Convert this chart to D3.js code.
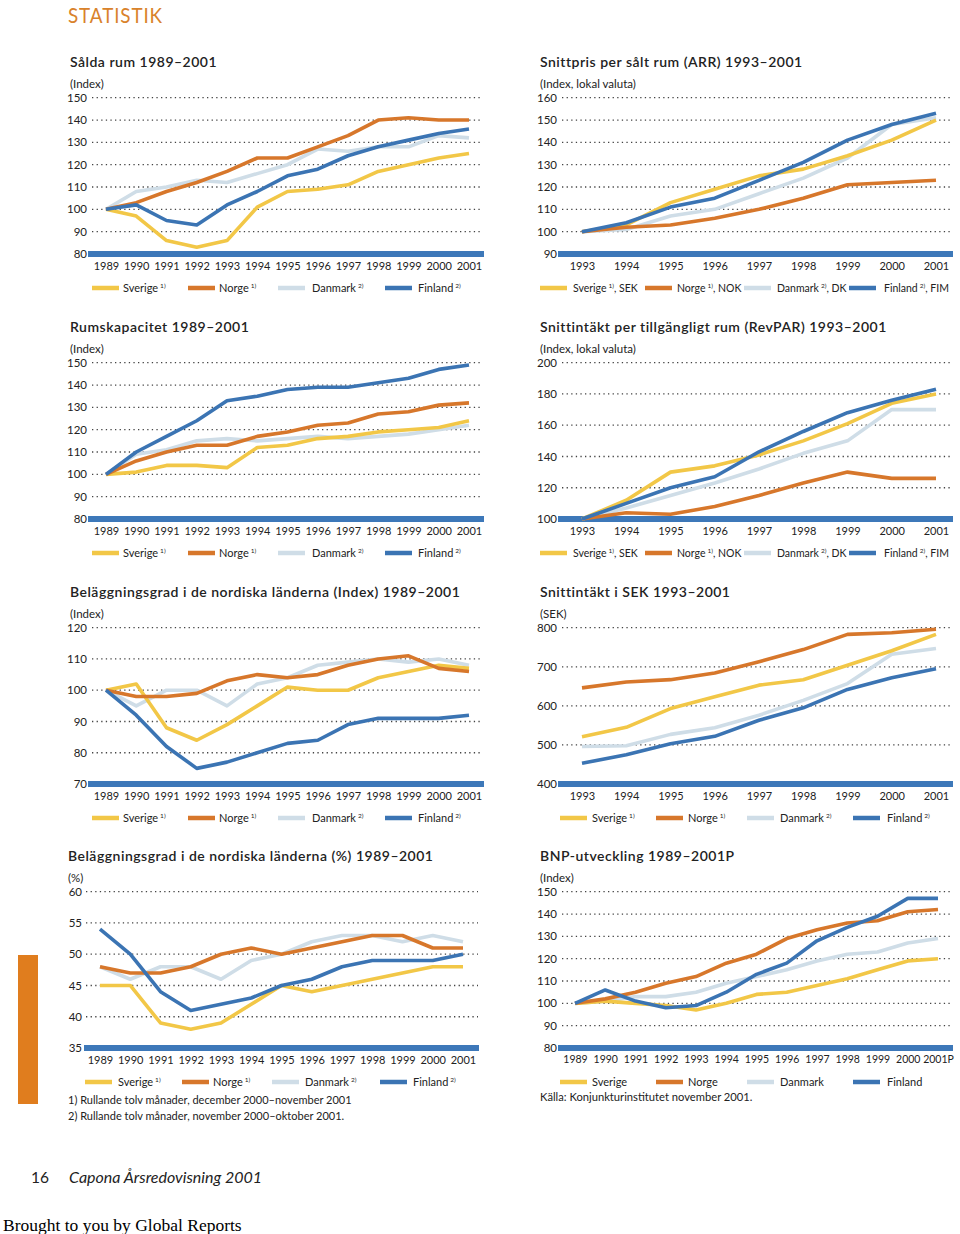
<!DOCTYPE html>
<html><head><meta charset="utf-8">
<script src="https://cdn.jsdelivr.net/npm/d3@7"></script>
<style>
body{margin:0;background:#fff;}
svg{display:block;}
text{font-family:Lato,"Open Sans","Noto Sans",sans-serif;fill:#222;}
</style></head>
<body>
<script>
// ---------- DATA ----------
const countries = ["Sverige","Norge","Danmark","Finland"];
const yearsLong = [1989,1990,1991,1992,1993,1994,1995,1996,1997,1998,1999,2000,2001];
const yearsShort = [1993,1994,1995,1996,1997,1998,1999,2000,2001];
const yearLabelsLong = ["1989","1990","1991","1992","1993","1994","1995","1996","1997","1998","1999","2000","2001"];
const yearLabelsShort = ["1993","1994","1995","1996","1997","1998","1999","2000","2001"];
const yearLabelsBnp = ["1989","1990","1991","1992","1993","1994","1995","1996","1997","1998","1999","2000","2001P"];

// Sålda rum (Index) — rows: Sverige, Norge, Danmark, Finland
const saldaRum = [
  [100, 97, 86, 83, 86,101,108,109,111,117,120,123,125],
  [100,103,108,112,117,123,123,128,133,140,141,140,140],
  [100,108,110,113,112,116,120,127,126,128,128,133,132],
  [100,102, 95, 93,102,108,115,118,124,128,131,134,136]
];
// Snittpris per sålt rum (ARR), Index lokal valuta
const arr = [
  [100,103,113,119,125,128,134,141,150],
  [100,102,103,106,110,115,121,122,123],
  [100,101,107,110,117,124,133,148,151],
  [100,104,111,115,123,131,141,148,153]
];
// Rumskapacitet (Index)
const rumskapacitet = [
  [100,101,104,104,103,112,113,116,117,119,120,121,124],
  [100,106,110,113,113,117,119,122,123,127,128,131,132],
  [100,109,111,115,116,115,116,117,116,117,118,120,122],
  [100,110,117,124,133,135,138,139,139,141,143,147,149]
];
// RevPAR (Index lokal valuta)
const revpar = [
  [100,112,130,134,141,150,161,174,180],
  [100,104,103,108,115,123,130,126,126],
  [100,107,115,123,132,142,150,170,170],
  [100,110,120,127,143,156,168,176,183]
];
// Beläggningsgrad (Index)
const belaggIndex = [
  [100,102, 88, 84, 89, 95,101,100,100,104,106,108,107],
  [100, 98, 98, 99,103,105,104,105,108,110,111,107,106],
  [100, 95,100,100, 95,102,104,108,109,110,109,110,108],
  [100, 92, 82, 75, 77, 80, 83, 84, 89, 91, 91, 91, 92]
];
// Snittintäkt i SEK
const intaktSek = [
  [521,545,593,623,653,667,704,741,783],
  [646,661,667,684,713,744,783,787,796],
  [496,498,527,544,576,614,657,732,747],
  [453,475,503,522,563,595,642,672,695]
];
// Beläggningsgrad (%)
const belaggPct = [
  [45,45,39,38,39,42,45,44,45,46,47,48,48],
  [48,47,47,48,50,51,50,51,52,53,53,51,51],
  [48,46,48,48,46,49,50,52,53,53,52,53,52],
  [54,50,44,41,42,43,45,46,48,49,49,49,50]
];
// BNP-utveckling (Index)
const bnp = [
  [100,101,100, 99, 97,100,104,105,108,111,115,119,120],
  [100,102,105,109,112,118,122,129,133,136,137,141,142],
  [100,101,103,103,105,109,112,115,119,122,123,127,129],
  [100,106,101, 98, 99,105,113,118,128,134,139,147,147]
];

const ticks1 = [80,90,100,110,120,130,140,150];
const ticksArr = [90,100,110,120,130,140,150,160];
const ticksRevpar = [100,120,140,160,180,200];
const ticksBelagg = [70,80,90,100,110,120];
const ticksSek = [400,500,600,700,800];
const ticksPct = [35,40,45,50,55,60];

const notesStd = ["1)","1)","2)","2)"];
const suffixLocal = [", SEK",", NOK",", DK",", FIM"];

// ---------- STYLE ----------
const colors = ["#f2c747","#d7772b","#cfdde7","#3b74b3"];
const drawOrder = [2,0,1,3];
const axisBlue = "#3d78b9";

const W = 960, H = 1234;
const svg = d3.select("body").append("svg").attr("width",W).attr("height",H);

// Header
svg.append("text").attr("x",68).attr("y",23).text("STATISTIK")
  .attr("font-size",21).attr("textLength",95).attr("lengthAdjust","spacingAndGlyphs")
  .style("fill","#d9822b").style("letter-spacing","1px");

// Left orange bar
svg.append("rect").attr("x",18).attr("y",955).attr("width",20).attr("height",149).attr("fill","#e07d1e");

const layoutLeft = {labelRight:87, grid:[92,482], bar:[88,484], xr:[106,469], titleX:70,
  legLine:[92,188,278,385], legText:[123,219,312,418]};
const layoutLeft7 = {labelRight:82, grid:[86,478], bar:[84,479], xr:[100,463], titleX:68,
  legLine:[85,182,272,380], legText:[118,213,305,413]};
const layoutRightA = {labelRight:557, grid:[562,952], bar:[558,953], xr:[582,936], titleX:540,
  legLine:[540,645,744,849], legText:[573,677,777,884]};
const layoutRightB = {labelRight:557, grid:[562,952], bar:[558,953], xr:[582,936], titleX:540,
  legLine:[560,656,747,853], legText:[592,688,780,887]};
const layoutRight8 = Object.assign({}, layoutRightB, {xr:[575,938]});

function panel(cfg){
  const L = cfg.layout, o = cfg.oy;
  const g = svg.append("g");
  g.append("text").attr("x",L.titleX).attr("y",67+o).text(cfg.title)
    .attr("font-size",14).attr("font-weight",600).style("letter-spacing","0.5px");
  g.append("text").attr("x",L.titleX).attr("y",88+o).text(cfg.sub).attr("font-size",11.5);

  const y = d3.scaleLinear().domain(d3.extent(cfg.ticks)).range([254+o, 97.7+o]);
  const x = d3.scalePoint().domain(cfg.years).range(L.xr);

  // dotted gridlines
  g.selectAll(".gl").data(cfg.ticks.slice(1)).join("line")
    .attr("x1",L.grid[0]).attr("x2",L.grid[1])
    .attr("y1",d=>y(d)).attr("y2",d=>y(d))
    .attr("stroke","#444").attr("stroke-width",1.3).attr("stroke-dasharray","1.3,3.3");
  // y tick labels
  g.selectAll(".yl").data(cfg.ticks).join("text")
    .attr("x",L.labelRight).attr("y",d=>y(d)).attr("dy","0.36em")
    .attr("text-anchor","end").attr("font-size",11.5).text(d=>d);

  // bottom bar
  g.append("rect").attr("x",L.bar[0]).attr("y",y(cfg.ticks[0])-3)
    .attr("width",L.bar[1]-L.bar[0]).attr("height",6).attr("fill",axisBlue);

  // x labels via axis
  const xa = d3.axisBottom(x).tickSize(0).tickPadding(0).tickFormat((d,i)=>cfg.yearLabels[i]);
  const ax = g.append("g").attr("transform",`translate(0,${y(cfg.ticks[0])+8})`).call(xa);
  ax.select(".domain").remove();
  ax.selectAll("text").attr("font-size",cfg.xFont || 11).attr("dy","0.71em").style("fill","#222")
    .style("font-family","Lato,'Open Sans',sans-serif");

  // lines
  const line = d3.line().x((d,i)=>x(cfg.years[i])).y(d=>y(d));
  drawOrder.forEach(ci=>{
    g.append("path").attr("d",line(cfg.data[ci])).attr("fill","none")
      .attr("stroke",colors[ci]).attr("stroke-width",3.6)
      .attr("stroke-linejoin","round").attr("stroke-linecap","butt");
  });

  // legend
  const ly = y(cfg.ticks[0]) + 34;
  const lf = cfg.suffix ? 10.5 : 11;
  countries.forEach((c,i)=>{
    g.append("line").attr("x1",L.legLine[i]).attr("x2",L.legLine[i]+27)
      .attr("y1",ly).attr("y2",ly).attr("stroke",colors[i]).attr("stroke-width",4.5);
    const t = g.append("text").attr("x",L.legText[i]).attr("y",ly).attr("dy","0.36em").attr("font-size",lf);
    t.append("tspan").text(c);
    if (cfg.notes) {
      t.append("tspan").attr("font-size",6.5).attr("dx",2).attr("dy","-0.6em").text(cfg.notes[i]);
      if (cfg.suffix) t.append("tspan").attr("dy","0.36em").attr("font-size",lf).text(cfg.suffix[i]);
    }
  });
}

panel({oy:0, layout:layoutLeft, title:"Sålda rum 1989–2001", sub:"(Index)", ticks:ticks1,
  years:yearsLong, yearLabels:yearLabelsLong, data:saldaRum, notes:notesStd});
panel({oy:0, layout:layoutRightA, title:"Snittpris per sålt rum (ARR) 1993–2001", sub:"(Index, lokal valuta)", ticks:ticksArr,
  years:yearsShort, yearLabels:yearLabelsShort, data:arr, notes:notesStd, suffix:suffixLocal});
panel({oy:265, layout:layoutLeft, title:"Rumskapacitet 1989–2001", sub:"(Index)", ticks:ticks1,
  years:yearsLong, yearLabels:yearLabelsLong, data:rumskapacitet, notes:notesStd});
panel({oy:265, layout:layoutRightA, title:"Snittintäkt per tillgängligt rum (RevPAR) 1993–2001", sub:"(Index, lokal valuta)", ticks:ticksRevpar,
  years:yearsShort, yearLabels:yearLabelsShort, data:revpar, notes:notesStd, suffix:suffixLocal});
panel({oy:530, layout:layoutLeft, title:"Beläggningsgrad i de nordiska länderna (Index) 1989–2001", sub:"(Index)", ticks:ticksBelagg,
  years:yearsLong, yearLabels:yearLabelsLong, data:belaggIndex, notes:notesStd});
panel({oy:530, layout:layoutRightB, title:"Snittintäkt i SEK 1993–2001", sub:"(SEK)", ticks:ticksSek,
  years:yearsShort, yearLabels:yearLabelsShort, data:intaktSek, notes:notesStd});
panel({oy:794, layout:layoutLeft7, title:"Beläggningsgrad i de nordiska länderna (%) 1989–2001", sub:"(%)", ticks:ticksPct,
  years:yearsLong, yearLabels:yearLabelsLong, data:belaggPct, notes:notesStd});
panel({oy:794, layout:layoutRight8, title:"BNP-utveckling 1989–2001P", sub:"(Index)", ticks:ticks1,
  years:yearsLong, yearLabels:yearLabelsBnp, data:bnp, notes:null, xFont:10.5});

// footnotes
svg.append("text").attr("x",68).attr("y",1104).attr("font-size",11).text("1) Rullande tolv månader, december 2000–november 2001");
svg.append("text").attr("x",68).attr("y",1120).attr("font-size",11).text("2) Rullande tolv månader, november 2000–oktober 2001.");
svg.append("text").attr("x",540).attr("y",1101).attr("font-size",11.2).text("Källa: Konjunkturinstitutet november 2001.");

// page footer
svg.append("text").attr("x",31).attr("y",1183).attr("font-size",15.5).text("16");
svg.append("text").attr("x",69).attr("y",1183).attr("font-size",16).attr("font-style","italic").text("Capona Årsredovisning 2001");
svg.append("text").attr("x",3).attr("y",1231).attr("font-size",17.5)
  .style("font-family","'Liberation Serif','DejaVu Serif',serif").style("fill","#000").text("Brought to you by Global Reports");
</script>
</body></html>
